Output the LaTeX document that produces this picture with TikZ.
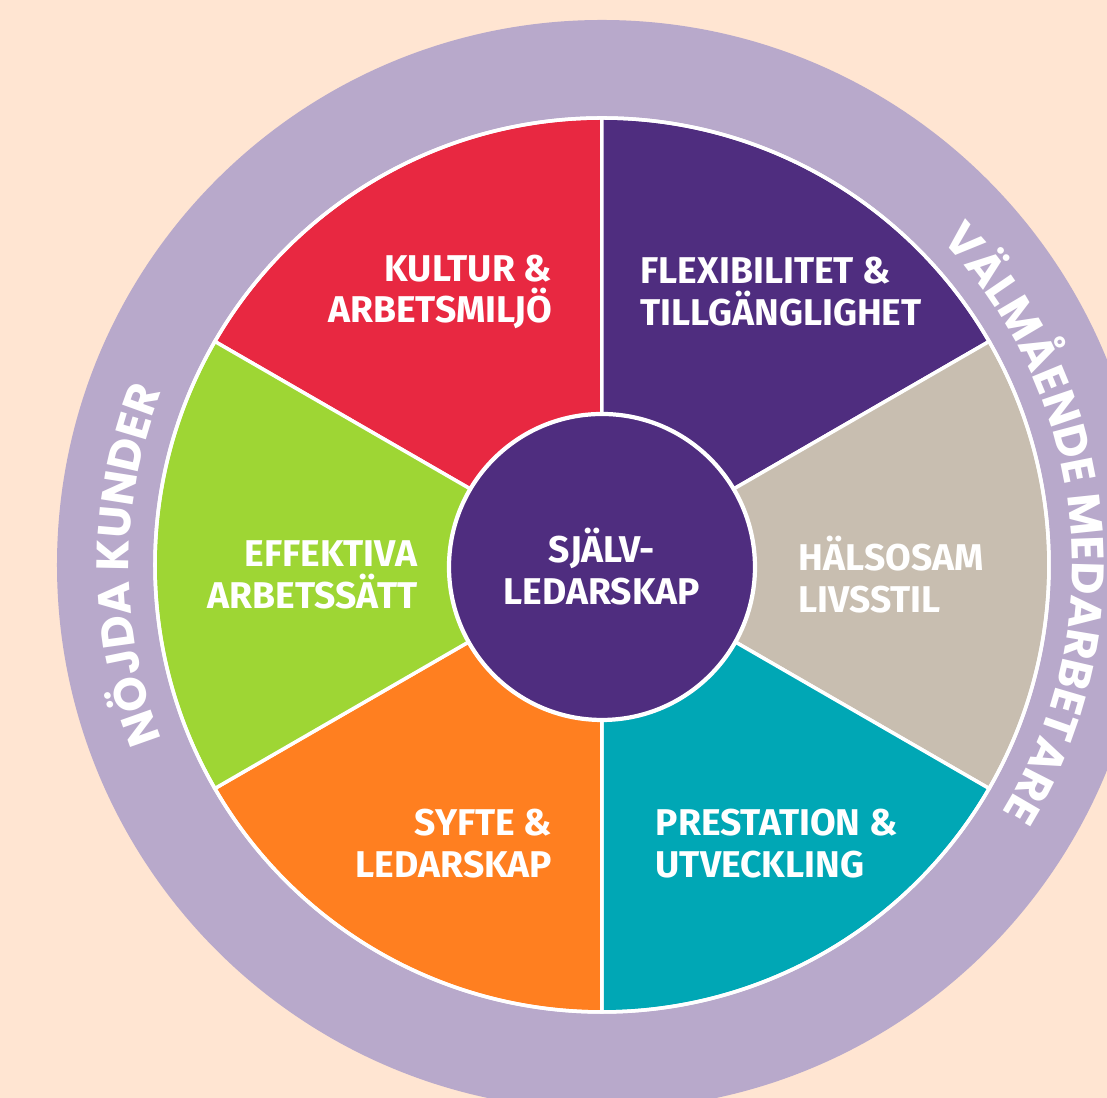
\documentclass[tikz,border=0pt]{standalone}
\usepackage{fontspec}
\setmainfont{Fira Sans}
\newfontfamily\ringfont{Poppins}
\usetikzlibrary{decorations.text}

\definecolor{peach}{RGB}{255,229,210}
\definecolor{lavender}{RGB}{184,169,203}
\definecolor{kulturred}{RGB}{232,40,65}
\definecolor{flexpurple}{RGB}{79,45,127}
\definecolor{halsabeige}{RGB}{200,190,176}
\definecolor{prestteal}{RGB}{0,167,181}
\definecolor{syfteorange}{RGB}{255,127,32}
\definecolor{effgreen}{RGB}{158,214,52}

\begin{document}
\begin{tikzpicture}[
        segment/.style={draw=white,line width=1pt},
        seglabel/.style={text=white,inner sep=0pt,
            font=\bfseries\fontsize{10.6}{11.9}\selectfont},
        ringtext/.style={font=\ringfont\bfseries\fontsize{12.9}{14}\selectfont,
            decorate,decoration={text along path,text align=center,
            text={|\ringfont\bfseries\fontsize{12.9}{14}\selectfont\color{white}|#1}}}]
        \clip (-6.02,-5.33) rectangle (5.05,5.65);
        \fill[peach] (-6.02,-5.33) rectangle (5.05,5.65);
        \fill[lavender] (0,0) circle (5.45);

        % the six segments of the wheel
        \foreach \a/\col in {90/kulturred, 30/flexpurple, -30/halsabeige,
                -90/prestteal, -150/syfteorange, 150/effgreen}{
            \filldraw[segment,fill=\col] (0,0) -- (\a:4.47)
                arc[start angle=\a, delta angle=60, radius=4.47] -- cycle;
        }
        \draw[segment] (0,0) circle (4.47);

        % hub
        \node[circle,draw=white,line width=1.2pt,fill=flexpurple,
            minimum size=3.06cm,align=center,seglabel] (hub) at (0,-0.02)
            {SJÄLV-\\LEDARSKAP};

        \node[seglabel,anchor=east,align=right] (kultur) at (-0.49,2.73)
            {KULTUR \&\\ARBETSMILJÖ};
        \node[seglabel,anchor=west,align=left] (flex) at (0.38,2.73)
            {FLEXIBILITET \&\\TILLGÄNGLIGHET};
        \node[seglabel,anchor=east,align=right] (effektiva) at (-1.84,-0.1)
            {EFFEKTIVA\\ARBETSSÄTT};
        \node[seglabel,anchor=west,align=left] (halsosam) at (1.96,-0.1)
            {HÄLSOSAM\\LIVSSTIL};
        \node[seglabel,anchor=east,align=right] (syfte) at (-0.49,-2.79)
            {SYFTE \&\\LEDARSKAP};
        \node[seglabel,anchor=west,align=left] (prestation) at (0.53,-2.79)
            {PRESTATION \&\\UTVECKLING};

        % texts round the ring
        \path[ringtext=NÖJDA KUNDER] (210:4.73)
            arc[start angle=210, end angle=150, radius=4.73];
        \path[ringtext=VÄLMÅENDE MEDARBETARE] (76:4.70)
            arc[start angle=76, end angle=-64, radius=4.70];
\end{tikzpicture}
\end{document}
